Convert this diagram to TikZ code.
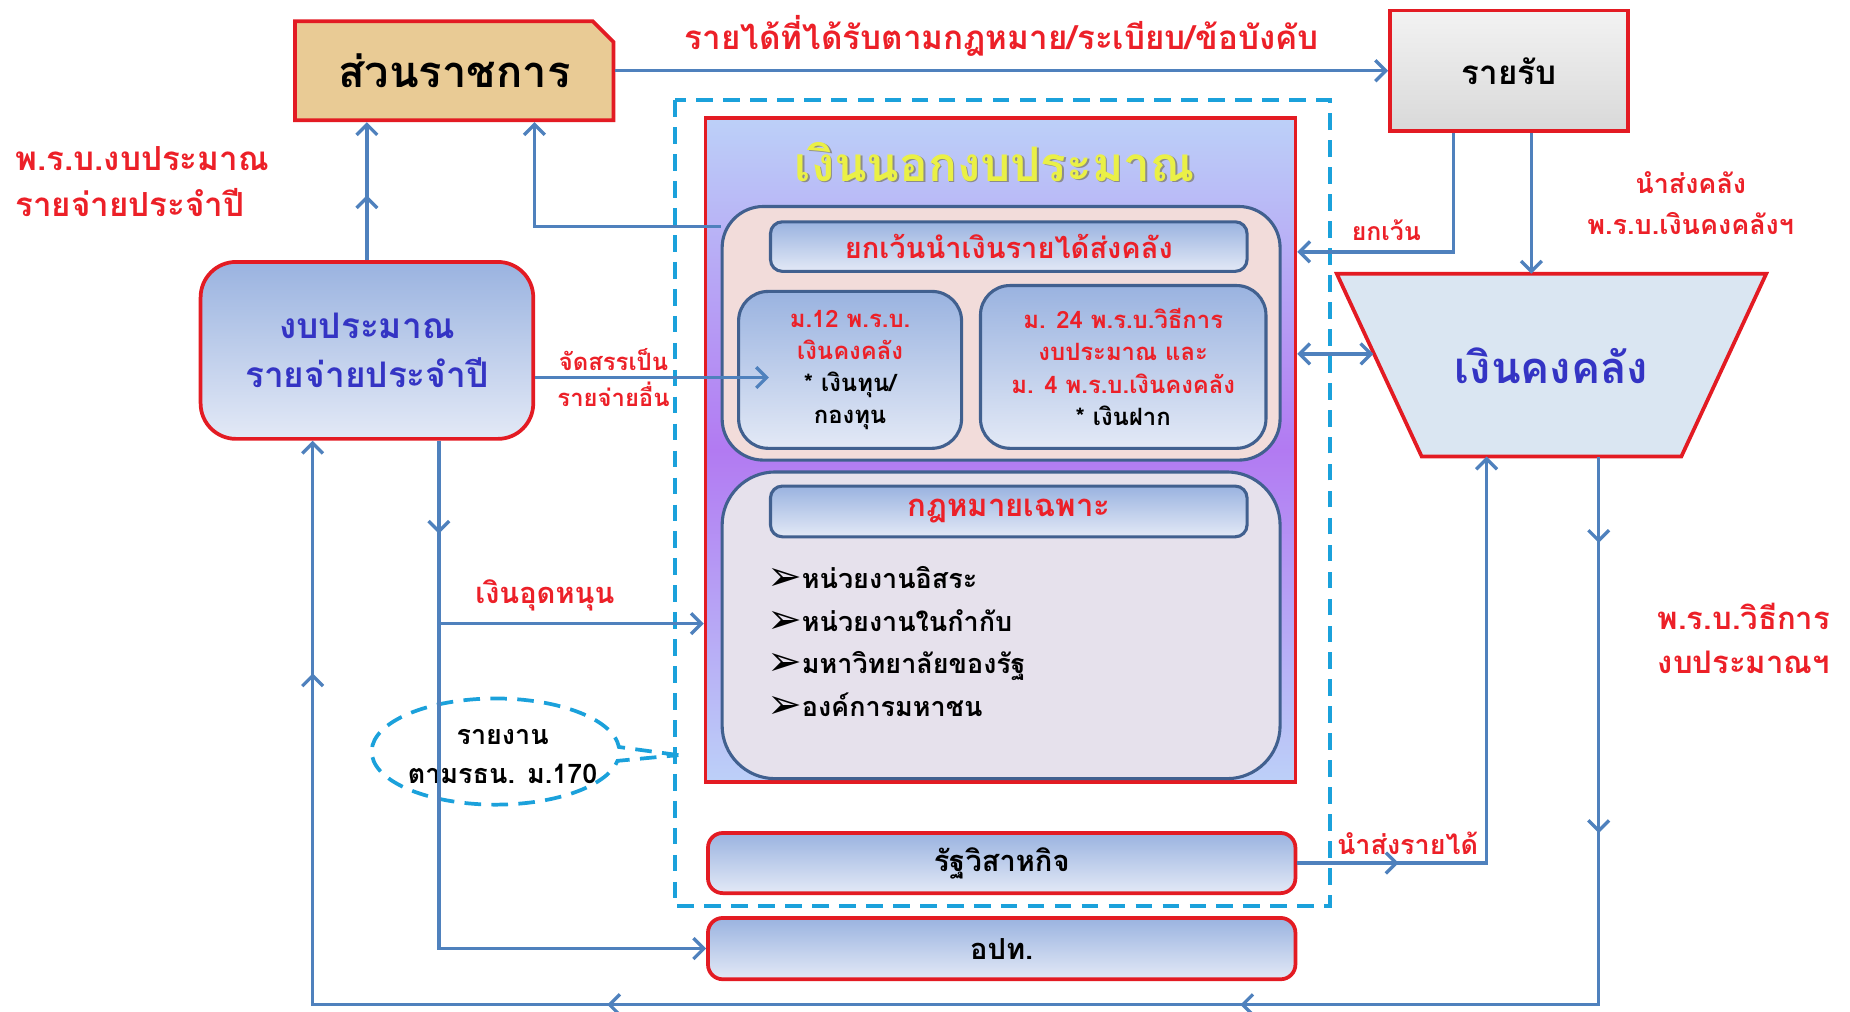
\documentclass[tikz,border=0pt]{standalone}
\usepackage{fontspec}
\setmainfont[Script=Thai]{Loma}
\newfontfamily\symfont{DejaVu Sans}
\usetikzlibrary{arrows.meta,calc,shapes.misc,shapes.callouts,decorations.markings}

\definecolor{boxred}{HTML}{E31B23}
\definecolor{txtred}{HTML}{EC2028}
\definecolor{flowblue}{HTML}{4F81BD}
\definecolor{dashcyan}{HTML}{1BA1DB}
\definecolor{navyline}{HTML}{41608F}
\definecolor{gradtop}{HTML}{9AB3E0}
\definecolor{gradbot}{HTML}{E3E9F6}
\definecolor{tanfill}{HTML}{E9CB95}
\definecolor{icefill}{HTML}{DAE6F2}
\definecolor{deepblue}{HTML}{3434C4}
\definecolor{titleyellow}{HTML}{EAF046}
\definecolor{pinkfill}{HTML}{F2DCDA}
\definecolor{lavfill}{HTML}{E6E1EC}
\definecolor{offtop}{HTML}{BCD0F8}
\definecolor{offmid}{HTML}{B27AF2}

\newcommand\fs[2]{\fontsize{#1}{#2}\selectfont\bfseries}
\newcommand\bullt{\raisebox{-1pt}{\symfont\fontsize{20pt}{20pt}\selectfont ➢}}

\tikzset{
  redbox/.style={draw=boxred, line width=1.8pt},
  gradfill/.style={top color=gradtop, bottom color=gradbot},
  navybox/.style={draw=navyline, line width=1.5pt, gradfill},
  flow/.style={color=flowblue, line width=1.6pt},
  midarr/.style={postaction={decorate, decoration={markings, mark=at position #1 with {\arrow{>}}}}},
  redlbl/.style={text=txtred, inner sep=1pt},
  dashline/.style={draw=dashcyan, line width=1.8pt, dash pattern=on 8pt off 5pt}
}

\begin{document}
\begin{tikzpicture}[x=0.02cm, y=-0.02cm, >={Straight Barb[length=5pt,width=10pt]}]
\useasboundingbox (0,0) rectangle (1568,857);

% frame round the off-budget part
\draw[dashline] (572,85) rectangle (1127,768);

% top row
\node[redbox, chamfered rectangle, chamfered rectangle corners=north east,
      chamfered rectangle xsep=5pt, chamfered rectangle ysep=5pt, fill=tanfill,
      minimum width=5.4cm, minimum height=1.68cm, font=\fs{21pt}{25pt}] (gov) at (385,60) {ส่วนราชการ};
\node[redbox, top color=white!95!black, bottom color=white!85!black,
      minimum width=4.04cm, minimum height=2.04cm, font=\fs{16pt}{19pt}] (income) at (1279,60) {รายรับ};

% annual budget
\node[redbox, gradfill, rounded corners=0.6cm, minimum width=5.64cm, minimum height=3cm,
      text=deepblue, align=center, font=\fs{17pt}{24pt}] (budget) at (311,297) {งบประมาณ\\รายจ่ายประจำปี};

% off-budget money
\node[redbox, minimum width=10cm, minimum height=11.26cm, top color=offtop, bottom color=offtop,
      middle color=offmid] (offb) at (848,381.5) {};
\node[text=black!45, font=\fs{23pt}{26pt}] (offshadow) at (844.5,138.5) {เงินนอกงบประมาณ};
\node[text=titleyellow, font=\fs{23pt}{26pt}] (offtitle) at (843,137) {เงินนอกงบประมาณ};

\node[draw=navyline, line width=1.5pt, fill=pinkfill, rounded corners=0.7cm,
      minimum width=9.46cm, minimum height=4.3cm] (exgrp) at (848.5,282.5) {};
\node[navybox, rounded corners=0.2cm, minimum width=8.08cm, minimum height=0.84cm,
      text=txtred, font=\fs{14pt}{17pt}] (exhead) at (855,209) {ยกเว้นนำเงินรายได้ส่งคลัง};
\node[navybox, rounded corners=0.5cm, minimum width=3.78cm, minimum height=2.66cm,
      align=center, font=\fs{11.5pt}{15.5pt}] (fundbox) at (720.5,313.5)
      {\textcolor{txtred}{ม.12 พ.ร.บ.}\\\textcolor{txtred}{เงินคงคลัง}\\* เงินทุน/\\กองทุน};
\node[navybox, rounded corners=0.5cm, minimum width=4.84cm, minimum height=2.76cm,
      align=center, font=\fs{11.5pt}{15.5pt}] (depbox) at (952,311)
      {\textcolor{txtred}{ม. 24 พ.ร.บ.วิธีการ}\\\textcolor{txtred}{งบประมาณ และ}\\\textcolor{txtred}{ม. 4 พ.ร.บ.เงินคงคลัง}\\* เงินฝาก};

\node[draw=navyline, line width=1.5pt, fill=lavfill, rounded corners=0.9cm,
      minimum width=9.46cm, minimum height=5.2cm] (lawgrp) at (848.5,530) {};
\node[navybox, rounded corners=0.2cm, minimum width=8.08cm, minimum height=0.86cm,
      text=txtred, font=\fs{15pt}{18pt}] (lawhead) at (855,433.5) {กฎหมายเฉพาะ};
\node[anchor=north west, align=left, font=\fs{13pt}{20.5pt}] (lawlist) at (644,474)
      {\bullt หน่วยงานอิสระ\\\bullt หน่วยงานในกำกับ\\\bullt มหาวิทยาลัยของรัฐ\\\bullt องค์การมหาชน};

% enterprises and local government
\node[redbox, gradfill, rounded corners=0.25cm, minimum width=9.96cm, minimum height=1.02cm,
      font=\fs{14pt}{17pt}] (soe) at (849,731.5) {รัฐวิสาหกิจ};
\node[redbox, gradfill, rounded corners=0.25cm, minimum width=9.96cm, minimum height=1.04cm,
      font=\fs{14pt}{17pt}] (lao) at (849,804) {อปท.};

% treasury
\draw[redbox, fill=icefill] (1133,232) -- (1497,232) -- (1425,387) -- (1205,387) -- cycle;
\node[text=deepblue, font=\fs{21pt}{24pt}] (treasury) at (1315,310) {เงินคงคลัง};
\coordinate (trtop) at (1298,232);
\coordinate (trleft) at (1164,300);
\coordinate (trbot) at (1355,387);
\coordinate (trin) at (1260,387);

% report bubble
\node[ellipse callout, dashline, minimum width=4.2cm, minimum height=1.8cm,
      callout absolute pointer={(575,640)}] (report) at (420,637) {};
\node[align=center, font=\fs{13pt}{19pt}] (reporttxt) at (426,641) {รายงาน\\ตามรธน. ม.170};

% connectors
\draw[flow,->] (gov.east) -- (income.west)
  node[midway, above=3pt, text=txtred, font=\fs{16pt}{19pt}] (lblincome) {รายได้ที่ได้รับตามกฎหมาย/ระเบียบ/ข้อบังคับ};
\draw[flow,->,midarr=0.47] (budget.north) -- (budget.north |- gov.south);
\draw[flow,->] ($(exgrp.north west)+(0,18)$) -| ($(gov.south)+(68,0)$);
\draw[flow,->] ($(budget.east)+(0,23)$) -- ($(fundbox.west |- budget.east)+(27,23)$);

\coordinate (bdrop) at ($(budget.south)+(61,0)$);
\coordinate (tap) at ($(bdrop)+(0,155)$);
\draw[flow,->,midarr=0.12] (bdrop) |- (lao.west);
\draw[flow,->] (tap) -- (tap -| offb.west)
  node[pos=0.4, above=2pt, text=txtred, font=\fs{14pt}{17pt}] (lblsubs) {เงินอุดหนุน};

\coordinate (loopcorner) at ($(budget.south)+(-46,478)$);
\draw[flow,->,midarr=0.036,midarr=0.157,midarr=0.378,midarr=0.642,midarr=0.903]
  (trbot) |- (loopcorner) -- (loopcorner |- budget.south);

\draw[flow,->] (income.south -| trtop) -- (trtop);
\draw[flow,->] ($(income.south)+(-47,0)$) |- ($(offb.north east)+(0,115)$);
\draw[flow,<->] (offb.east |- trleft) -- (trleft);
\draw[flow,->,midarr=0.17] (soe.east) -| (trin);

% labels
\node[redlbl, anchor=west, align=left, font=\fs{16pt}{22pt}] (lblact) at (11,154) {พ.ร.บ.งบประมาณ\\รายจ่ายประจำปี};
\node[redlbl, align=center, font=\fs{11.5pt}{17pt}] (lblalloc) at (520,320) {จัดสรรเป็น\\รายจ่ายอื่น};
\node[redlbl, font=\fs{12pt}{15pt}] (lblexc) at (1175,195) {ยกเว้น};
\node[redlbl, align=center, font=\fs{13pt}{20pt}] (lbltreas) at (1433,172) {นำส่งคลัง\\พ.ร.บ.เงินคงคลังฯ};
\node[redlbl, anchor=west, align=left, font=\fs{15pt}{21.5pt}] (lblproc) at (1403,541) {พ.ร.บ.วิธีการ\\งบประมาณฯ};
\node[redlbl, font=\fs{13pt}{16pt}] (lblremit) at (1193,715) {นำส่งรายได้};
\end{tikzpicture}
\end{document}
